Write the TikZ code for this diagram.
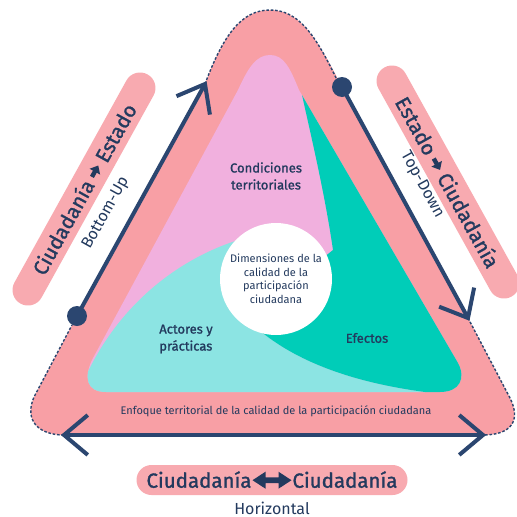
\documentclass[tikz,border=0pt]{standalone}
\usepackage{fontspec}
\setmainfont{Fira Sans}
\newfontfamily\medfont{Fira Sans}[FakeBold=1.3]
\usetikzlibrary{calc}
\definecolor{navy}{HTML}{2B4670}
\definecolor{txt}{HTML}{233A5E}
\definecolor{band}{HTML}{F89FA5}
\definecolor{caps}{HTML}{F8AAB0}
\definecolor{lav}{HTML}{F1B0DE}
\definecolor{tealc}{HTML}{00CDB8}
\definecolor{cyanc}{HTML}{8CE4E3}
\newcommand{\myArrR}{\tikz[x=1pt,y=1pt,sharp corners,baseline=-7pt]\fill[txt] (-6,-2.2) -- (0,-2.2) -- (0,-6) -- (7,0) -- (0,6) -- (0,2.2) -- (-6,2.2) -- cycle;}
\newcommand{\myArrLR}{\tikz[x=1pt,y=1pt,sharp corners,baseline=-7.5pt]\fill[txt] (0,0) -- (13,8.5) -- (13,2.8) -- (26,2.8) -- (26,8.5) -- (39,0) -- (26,-8.5) -- (26,-2.8) -- (13,-2.8) -- (13,-8.5) -- cycle;}
\begin{document}
\begin{tikzpicture}[x=1pt,y=-1pt,
  navyline/.style={draw=navy,line width=4pt,line cap=butt,line join=miter},
  dashline/.style={draw=navy,line width=1.4pt,dash pattern=on 2.6pt off 1.8pt},
  dot/.style={circle,fill=navy,minimum size=20pt,inner sep=0pt},
  capsule/.style={fill=caps,rounded corners=15.5pt,minimum height=31pt,inner sep=0pt,text=txt,font=\medfont\fontsize{20.5}{24}\selectfont},
  sublbl/.style={text=txt,inner sep=0pt,font=\fontsize{16}{19}\selectfont},
  reglbl/.style={text=txt,inner sep=0pt,align=center,font=\medfont\fontsize{13}{17}\selectfont},
  circtext/.style={text=txt,inner sep=0pt,align=center,font=\fontsize{11}{13.5}\selectfont}]
\useasboundingbox (0,0) rectangle (517,517);
\fill[white] (0,0) rectangle (517,517);

\coordinate (LT) at (205,84);
\coordinate (RT) at (468,318);
\coordinate (BL) at (64,435);
\coordinate (BR) at (483,435);

% outer band
\fill[band] (LT) .. controls (223,36) and (241,10) .. (270,10) .. controls (299,10) and (316,36) .. (342,87) -- (RT) -- (510,398) .. controls (521,420) and (512,435) .. (BR) -- (BL) .. controls (38,435) and (24,420) .. (34,397) -- (77,316) -- cycle;

% inner regions
\fill[lav] (270,55) .. controls (256,55) and (248,68) .. (238,90) -- (92,360) .. controls (84,377) and (86,392) .. (106,392) -- (440,392) .. controls (460,392) and (466,378) .. (458,363) -- (299,90) .. controls (290,68) and (284,55) .. (270,55) -- cycle;
\begin{scope}
\clip (270,55) .. controls (256,55) and (248,68) .. (238,90) -- (92,360) .. controls (84,377) and (86,392) .. (106,392) -- (440,392) .. controls (460,392) and (466,378) .. (458,363) -- (299,90) .. controls (290,68) and (284,55) .. (270,55) -- cycle;
\fill[cyanc] (260,250) -- (245,238) .. controls (185,255) and (120,300) .. (84,380) -- (70,420) -- (440,420) -- (425,392) .. controls (350,382) and (290,360) .. (250,322) -- cycle;
\fill[tealc] (340,50) -- (302,95) .. controls (312,140) and (325,195) .. (333,250) -- (270,300) -- (250,322) .. controls (290,360) and (350,382) .. (425,392) -- (440,420) -- (530,420) -- (530,50) -- cycle;
\end{scope}
\node[circle,fill=white,minimum size=112pt,inner sep=0pt] (circ) at (276,279) {};
\node[circtext] (dim) at (276,279) {Dimensiones de la\\calidad de la\\participación\\ciudadana};

\node[reglbl] (cond) at (266,176) {Condiciones\\territoriales};
\node[reglbl,align=left] (act) at (186,339) {Actores y\\prácticas};
\node[reglbl] (efe) at (367,338) {Efectos};
\node[text=txt,inner sep=0pt,font=\fontsize{11}{13}\selectfont] (enf) at (276,411) {Enfoque territorial de la calidad de la participación ciudadana};

% dashed corners
\draw[dashline] (LT) .. controls (223,36) and (241,10) .. (270,10) .. controls (299,10) and (316,36) .. (337,80);
\draw[dashline] (RT) -- (510,398) .. controls (521,420) and (512,435) .. (BR);
\draw[dashline] (BL) .. controls (38,435) and (24,420) .. (34,397) -- (72,325);

% dots and arrows
\node[dot] (ld) at (77,316) {};
\node[dot] (rd) at (342,87) {};
\draw[navyline] (ld.center) -- (LT);
\draw[navyline] ($(LT)!31pt!38:(ld.center)$) -- (LT) -- ($(LT)!31pt!-38:(ld.center)$);
\draw[navyline] (rd.center) -- (RT);
\draw[navyline] ($(RT)!31pt!40:(rd.center)$) -- (RT) -- ($(RT)!31pt!-40:(rd.center)$);
\draw[navyline] (BL) -- (BR);
\draw[navyline] ($(BL)!31pt!40:(BR)$) -- (BL) -- ($(BL)!31pt!-40:(BR)$);
\draw[navyline] ($(BR)!31pt!40:(BL)$) -- (BR) -- ($(BR)!31pt!-40:(BL)$);

% side labels
\node[capsule,minimum width=262pt,rotate=61] (lcap) at (84,189) {Ciudadanía \myArrR\ Estado};
\node[sublbl,rotate=61] (bu) at (106,213) {Bottom-Up};
\node[capsule,minimum width=262pt,rotate=-61] (rcap) at (448,182) {Estado \myArrR\ Ciudadanía};
\node[sublbl,rotate=-61] (td) at (422,185) {Top-Down};
\node[capsule,minimum width=271pt,minimum height=30pt,rounded corners=15pt] (bcap) at (272,480) {Ciudadanía\hspace{1pt}\myArrLR\hspace{1pt}Ciudadanía};
\node[sublbl] (hor) at (272,508) {Horizontal};
\end{tikzpicture}
\end{document}
